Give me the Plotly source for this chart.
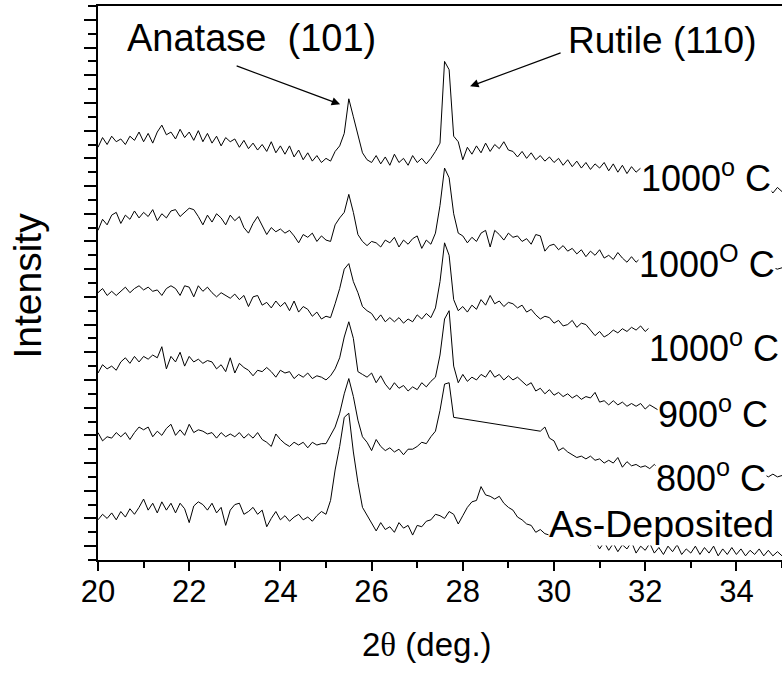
import numpy as np
import plotly.graph_objects as go

# 2-theta scan grid (deg), 0.1 deg step
two_theta = np.round(np.linspace(20.0, 35.0, 151), 1)

# stacked intensities (a.u.)
i_1000_a = [
    29.8, 30.5, 30.0, 30.6, 30.2, 30.4, 30.0, 30.6, 30.3, 30.9,
    30.2, 30.8, 30.1, 30.9, 31.4, 30.7, 30.9, 30.4, 31.1, 30.5,
    30.9, 30.3, 31.0, 30.2, 30.8, 30.1, 30.6, 29.9, 30.5, 30.2,
    30.4, 29.8, 30.3, 29.7, 30.1, 29.6, 30.0, 29.5, 30.2, 29.4,
    29.9, 29.3, 29.9, 29.1, 29.6, 28.9, 29.4, 28.8, 29.2, 28.7,
    29.0, 28.8, 29.5, 29.9, 30.8, 33.3, 32.0, 30.8, 29.4, 28.9,
    28.7, 29.2, 28.6, 29.1, 28.5, 29.3, 28.7, 29.0, 28.5, 29.2,
    28.7, 29.0, 28.6, 29.0, 29.5, 30.1, 36.0, 35.4, 30.6, 30.2,
    28.9, 29.8, 29.3, 29.9, 29.4, 30.1, 29.5, 30.0, 29.7, 30.2,
    29.6, 29.5, 29.1, 29.5, 29.0, 29.4, 28.9, 29.2, 28.8, 29.1,
    28.7, 29.0, 28.5, 28.9, 28.4, 28.8, 28.3, 28.7, 28.2, 28.6,
    28.3, 28.7, 28.1, 28.6, 28.0, 28.5, 27.9, 28.4, 28.0, 28.3,
    27.9, 28.2, 27.8, 28.1, 27.7, 28.0, 27.6, 27.9, 27.5, 27.8,
    27.4, 27.7, 27.3, 27.6, 27.2, 27.5, 27.1, 27.5, 27.0, 27.3,
    26.9, 27.2, 26.8, 27.1, 26.7, 27.0, 26.6, 26.9, 26.5, 26.9,
    26.6,
]
i_1000_b = [
    23.8, 24.6, 24.2, 24.9, 25.1, 24.3, 24.9, 24.6, 25.2, 24.7,
    25.1, 24.8, 25.3, 24.5, 25.0, 24.7, 25.2, 25.3, 24.8, 25.1,
    25.4, 25.3, 24.8, 24.2, 24.9, 24.4, 25.0, 24.7, 24.2, 24.9,
    24.5, 24.8, 24.0, 23.6, 24.3, 24.8, 24.1, 23.5, 24.0, 23.7,
    23.9, 23.6, 23.8, 23.4, 22.9, 23.5, 23.3, 23.6, 23.0, 23.4,
    23.1, 23.0, 24.2, 24.7, 25.1, 26.4, 25.1, 23.5, 23.0, 22.7,
    23.0, 22.9, 22.6, 23.1, 22.9, 23.3, 22.6, 23.1, 22.8, 23.2,
    23.4, 22.5, 23.1, 22.8, 23.6, 25.6, 28.3, 27.6, 25.0, 23.6,
    23.4, 22.9, 23.3, 23.0, 23.6, 23.8, 22.6, 23.8, 23.5, 23.1,
    23.6, 23.3, 23.4, 23.0, 23.2, 22.8, 23.5, 23.4, 22.3, 22.7,
    22.8, 22.4, 22.7, 22.3, 22.5, 22.1, 22.4, 21.9, 22.3, 22.0,
    22.4, 21.8, 22.0, 21.7, 22.2, 21.8, 21.5, 21.9, 21.5, 21.8,
    21.4, 21.7, 21.3, 21.6, 21.2, 21.5, 21.1, 21.4, 21.0, 21.3,
    21.0, 21.3, 20.9, 21.2, 20.9, 21.2, 20.8, 21.1, 20.8, 21.1,
    20.7, 21.0, 20.7, 21.0, 20.6, 20.9, 20.7, 20.9, 21.1, 21.0,
    21.1,
]
i_1000_c = [
    19.3, 19.6, 19.1, 19.4, 19.1, 19.4, 19.7, 19.3, 19.6, 19.8,
    19.5, 19.7, 19.4, 19.5, 19.1, 19.6, 19.8, 19.6, 19.1, 19.8,
    19.7, 19.0, 19.8, 19.4, 19.7, 19.3, 19.0, 19.3, 19.1, 18.9,
    19.2, 18.8, 19.1, 18.3, 19.0, 19.1, 18.4, 18.6, 18.2, 18.7,
    18.3, 18.6, 18.0, 18.7, 17.9, 18.3, 18.1, 17.6, 17.9, 17.4,
    17.6, 17.5, 18.5, 19.6, 21.0, 21.4, 20.1, 19.3, 18.3, 18.0,
    17.8, 17.3, 17.7, 17.2, 17.5, 17.2, 17.5, 17.1, 17.4, 17.2,
    17.7, 17.4, 17.8, 17.5, 18.2, 20.1, 22.9, 22.0, 18.8, 18.0,
    18.3, 17.9, 18.4, 18.1, 18.8, 18.4, 19.1, 18.5, 18.7, 18.3,
    18.6, 18.5, 18.2, 18.4, 17.9, 18.1, 17.7, 17.4, 17.6, 17.5,
    17.1, 17.3, 16.9, 17.0, 17.3, 16.8, 17.1, 17.0, 16.6, 16.2,
    16.5, 16.1, 16.3, 16.6, 16.4, 16.7, 16.5, 16.8, 16.6, 16.9,
    16.5, 16.8, 16.4, 16.7, 16.3, 16.6, 16.2, 16.5, 16.2, 16.4,
    16.1, 16.4, 16.0, 16.3, 16.0, 16.3, 15.9, 16.2, 15.9, 16.2,
    15.8, 16.1, 15.8, 16.1, 15.7, 16.0, 15.7, 16.0, 15.7, 15.9,
    15.6,
]
i_900 = [
    13.5, 14.1, 13.8, 14.0, 13.7, 14.3, 14.6, 14.2, 14.7, 14.3,
    14.7, 14.5, 14.8, 14.6, 15.4, 13.8, 14.7, 14.3, 15.0, 14.0,
    14.7, 14.3, 14.5, 14.2, 14.4, 14.3, 13.8, 14.1, 13.6, 14.6,
    13.5, 14.2, 13.9, 13.7, 13.3, 13.7, 13.6, 13.9, 13.6, 13.2,
    13.7, 13.5, 13.6, 13.1, 13.4, 13.2, 13.5, 13.1, 13.3, 13.2,
    13.0, 13.3, 13.8, 14.6, 16.1, 17.2, 16.0, 13.6, 13.4, 13.2,
    13.5, 12.8, 13.3, 12.7, 12.3, 12.8, 12.4, 12.6, 12.2, 12.5,
    12.3, 12.8, 12.5, 12.9, 13.2, 14.8, 17.4, 18.0, 14.0, 12.8,
    13.4, 12.9, 13.2, 13.0, 13.4, 13.2, 13.7, 13.2, 13.4, 13.0,
    13.3, 13.0, 13.2, 12.9, 12.6, 12.8, 12.2, 12.4, 12.0, 12.3,
    11.9, 12.1, 11.8, 12.0, 11.7, 11.9, 11.6, 11.8, 11.7, 12.1,
    11.4, 11.5, 11.2, 11.5, 11.2, 11.4, 11.1, 11.3, 11.1, 11.3,
    10.9, 11.2, 11.0, 10.8, 11.1, 10.8, 11.0, 10.7, 10.9, 10.6,
    10.9, 10.6, 10.8, 10.5, 10.8, 10.5, 10.7, 10.4, 10.7, 10.4,
    10.6, 10.3, 10.6, 10.3, 10.5, 10.2, 10.5, 10.2, 10.4, 10.2,
    10.4,
]
i_800 = [
    9.2, 8.6, 8.9, 8.8, 9.2, 8.9, 9.2, 8.7, 9.2, 9.6,
    9.4, 9.6, 8.9, 9.3, 9.0, 9.5, 9.8, 9.0, 9.4, 9.0,
    9.8, 9.2, 9.4, 9.3, 9.1, 9.2, 8.8, 9.2, 8.9, 9.1,
    8.9, 9.2, 8.8, 9.1, 8.8, 9.2, 8.7, 8.5, 8.2, 9.1,
    8.7, 8.4, 8.2, 8.5, 8.3, 8.5, 8.1, 8.5, 8.3, 8.4,
    8.4, 9.0, 9.6, 10.6, 12.0, 13.1, 11.8, 10.1, 8.9, 8.5,
    7.9, 8.7, 8.2, 7.9, 8.1, 7.8, 8.0, 7.6, 8.0, 8.0,
    8.2, 8.5, 8.4, 8.9, 9.3, 10.8, 12.7, 12.8, 10.3, None,
    None, None, None, None, None, None, None, None, None, None,
    None, None, None, None, None, None, None, 9.3, 9.6, 8.8,
    8.6, 7.9, 8.1, 7.8, 7.6, 7.4, 7.5, 7.3, 7.5, 7.2,
    7.3, 7.0, 7.2, 7.0, 7.4, 6.7, 7.1, 6.8, 6.9, 6.7,
    6.8, 6.6, 6.9, 6.6, 6.8, 6.5, 6.7, 6.4, 6.6, 6.4,
    6.6, 6.3, 6.5, 6.3, 6.5, 6.2, 6.4, 6.2, 6.4, 6.1,
    6.3, 6.1, 6.3, 6.0, 6.2, 6.0, 6.2, 6.0, 6.2, 6.0,
    6.1,
]
i_as_dep = [
    2.9, 3.3, 3.0, 3.4, 2.9, 3.5, 3.1, 3.7, 3.3, 3.8,
    4.4, 3.6, 4.1, 3.4, 4.2, 3.6, 4.1, 3.4, 4.1, 3.7,
    2.7, 3.9, 4.2, 4.0, 3.6, 4.1, 3.4, 3.8, 2.5, 3.6,
    4.0, 4.1, 3.3, 3.5, 3.8, 3.3, 3.6, 2.4, 3.0, 3.5,
    2.9, 3.2, 2.8, 3.1, 3.3, 2.9, 3.1, 2.8, 3.2, 3.5,
    3.3, 4.3, 6.5, 8.2, 10.3, 10.6, 7.8, 5.6, 3.8, 3.2,
    2.6, 2.1, 2.7, 2.2, 2.4, 2.0, 2.7, 2.3, 2.5, 1.8,
    2.5, 2.4, 2.8, 2.9, 3.3, 3.2, 3.0, 3.5, 3.3, 2.6,
    3.2, 3.8, 4.2, 4.3, 5.3, 4.7, 4.6, 4.4, 4.6, 4.1,
    3.8, 3.6, 3.1, 2.9, 2.6, 2.5, 2.0, 2.2, 1.9, 1.8,
    1.7, 1.9, 1.5, 1.7, 1.3, 1.6, 1.2, 1.4, 1.1, 1.4,
    0.8, 1.3, 0.7, 1.2, 0.6, 1.1, 0.8, 1.3, 0.5, 1.0,
    0.7, 1.2, 0.5, 0.9, 0.4, 1.0, 0.6, 1.1, 0.4, 0.8,
    0.5, 1.0, 0.4, 0.9, 0.5, 1.0, 0.3, 0.8, 0.4, 0.9,
    0.4, 0.8, 0.3, 0.7, 0.4, 0.8, 0.3, 0.7, 0.3, 0.6,
    0.3,
]

series = [
    ("1000° C (a)", i_1000_a),
    ("1000° C (b)", i_1000_b),
    ("1000° C (c)", i_1000_c),
    ("900° C", i_900),
    ("800° C", i_800),
    ("As-Deposited", i_as_dep),
]

# curve labels: (text, left x in deg, centre y in a.u., box width px)
labels = [
    ("1000<sup>o</sup> C", 31.89, 27.75, None),
    ("1000<sup>O</sup> C", 31.85, 21.55, None),
    ("1000<sup>o</sup> C", 32.06, 15.45, 135),
    ("900<sup>o</sup> C", 32.26, 10.7, 128),
    ("800<sup>o</sup> C", 32.21, 6.1, None),
    ("As-Deposited", 29.87, 2.6, None),
]

FONT = "Liberation Sans, Arial, sans-serif"

fig = go.Figure()
for name, vals in series:
    fig.add_trace(go.Scatter(
        x=two_theta, y=vals, mode="lines", name=name,
        line=dict(color="black", width=1), connectgaps=True,
        showlegend=False, hoverinfo="skip",
    ))

ann = []
for text, x, y, w in labels:
    a = dict(x=x, y=y, xref="x", yref="y", text=text, showarrow=False,
             xanchor="left", yanchor="middle", align="left",
             font=dict(size=36, color="black", family=FONT),
             bgcolor="white", borderpad=0)
    if w:
        a["width"] = w
    ann.append(a)
ann[-1]["font"] = dict(size=37.5, color="black", family=FONT)

# peak annotations
ann.append(dict(x=0.2251, y=0.9422, xref="paper", yref="paper",
                xanchor="center", yanchor="middle",
                text="Anatase\u00a0\u00a0(101)", showarrow=False,
                font=dict(size=38, color="black", family=FONT)))
ann.append(dict(x=0.8246, y=0.9386, xref="paper", yref="paper",
                xanchor="center", yanchor="middle",
                text="Rutile (110)", showarrow=False,
                font=dict(size=37, color="black", family=FONT)))
ann.append(dict(x=25.31, y=32.9, xref="x", yref="y", text="",
                showarrow=True, axref="pixel", ayref="pixel", ax=-105, ay=-39,
                arrowhead=2, arrowsize=1.3, arrowwidth=1.3, arrowcolor="black"))
ann.append(dict(x=28.16, y=34.2, xref="x", yref="y", text="",
                showarrow=True, axref="pixel", ayref="pixel", ax=92, ay=-34,
                arrowhead=2, arrowsize=1.3, arrowwidth=1.3, arrowcolor="black"))

# axis titles
ann.append(dict(x=0.481, y=-0.152, xref="paper", yref="paper",
                text="2<span style='font-family:Liberation Serif'>θ</span> (deg.)",
                showarrow=False, xanchor="center", yanchor="middle",
                font=dict(size=33, color="black", family=FONT)))
ann.append(dict(x=-0.103, y=0.4946, xref="paper", yref="paper",
                text="Intensity", textangle=-90, showarrow=False,
                xanchor="center", yanchor="middle",
                font=dict(size=39, color="black", family=FONT)))

fig.update_layout(
    width=782, height=673,
    margin=dict(l=98, r=0, t=6, b=113),
    paper_bgcolor="white", plot_bgcolor="white",
    font=dict(family=FONT, color="black"),
    annotations=ann,
    xaxis=dict(
        range=[20, 35], tick0=20, dtick=2, ticks="outside", ticklen=9,
        tickwidth=2, tickcolor="black", showline=True, linewidth=2,
        linecolor="black", mirror=True, showgrid=False, zeroline=False,
        tickfont=dict(size=31, family=FONT, color="black"),
        ticklabelstandoff=-6,
        minor=dict(dtick=1, tick0=20, ticks="outside", ticklen=6,
                   tickwidth=2, tickcolor="black", showgrid=False),
    ),
    yaxis=dict(
        range=[0, 40], tick0=1, dtick=2, ticks="outside", ticklen=12,
        tickwidth=2, tickcolor="black", showline=True, linewidth=2,
        linecolor="black", showgrid=False, zeroline=False,
        showticklabels=False,
        minor=dict(dtick=1, tick0=0, ticks="outside", ticklen=8,
                   tickwidth=2, tickcolor="black", showgrid=False),
    ),
)

fig.write_html("out.html", config={"displayModeBar": False},
               post_script="document.body.style.margin='0px';")
